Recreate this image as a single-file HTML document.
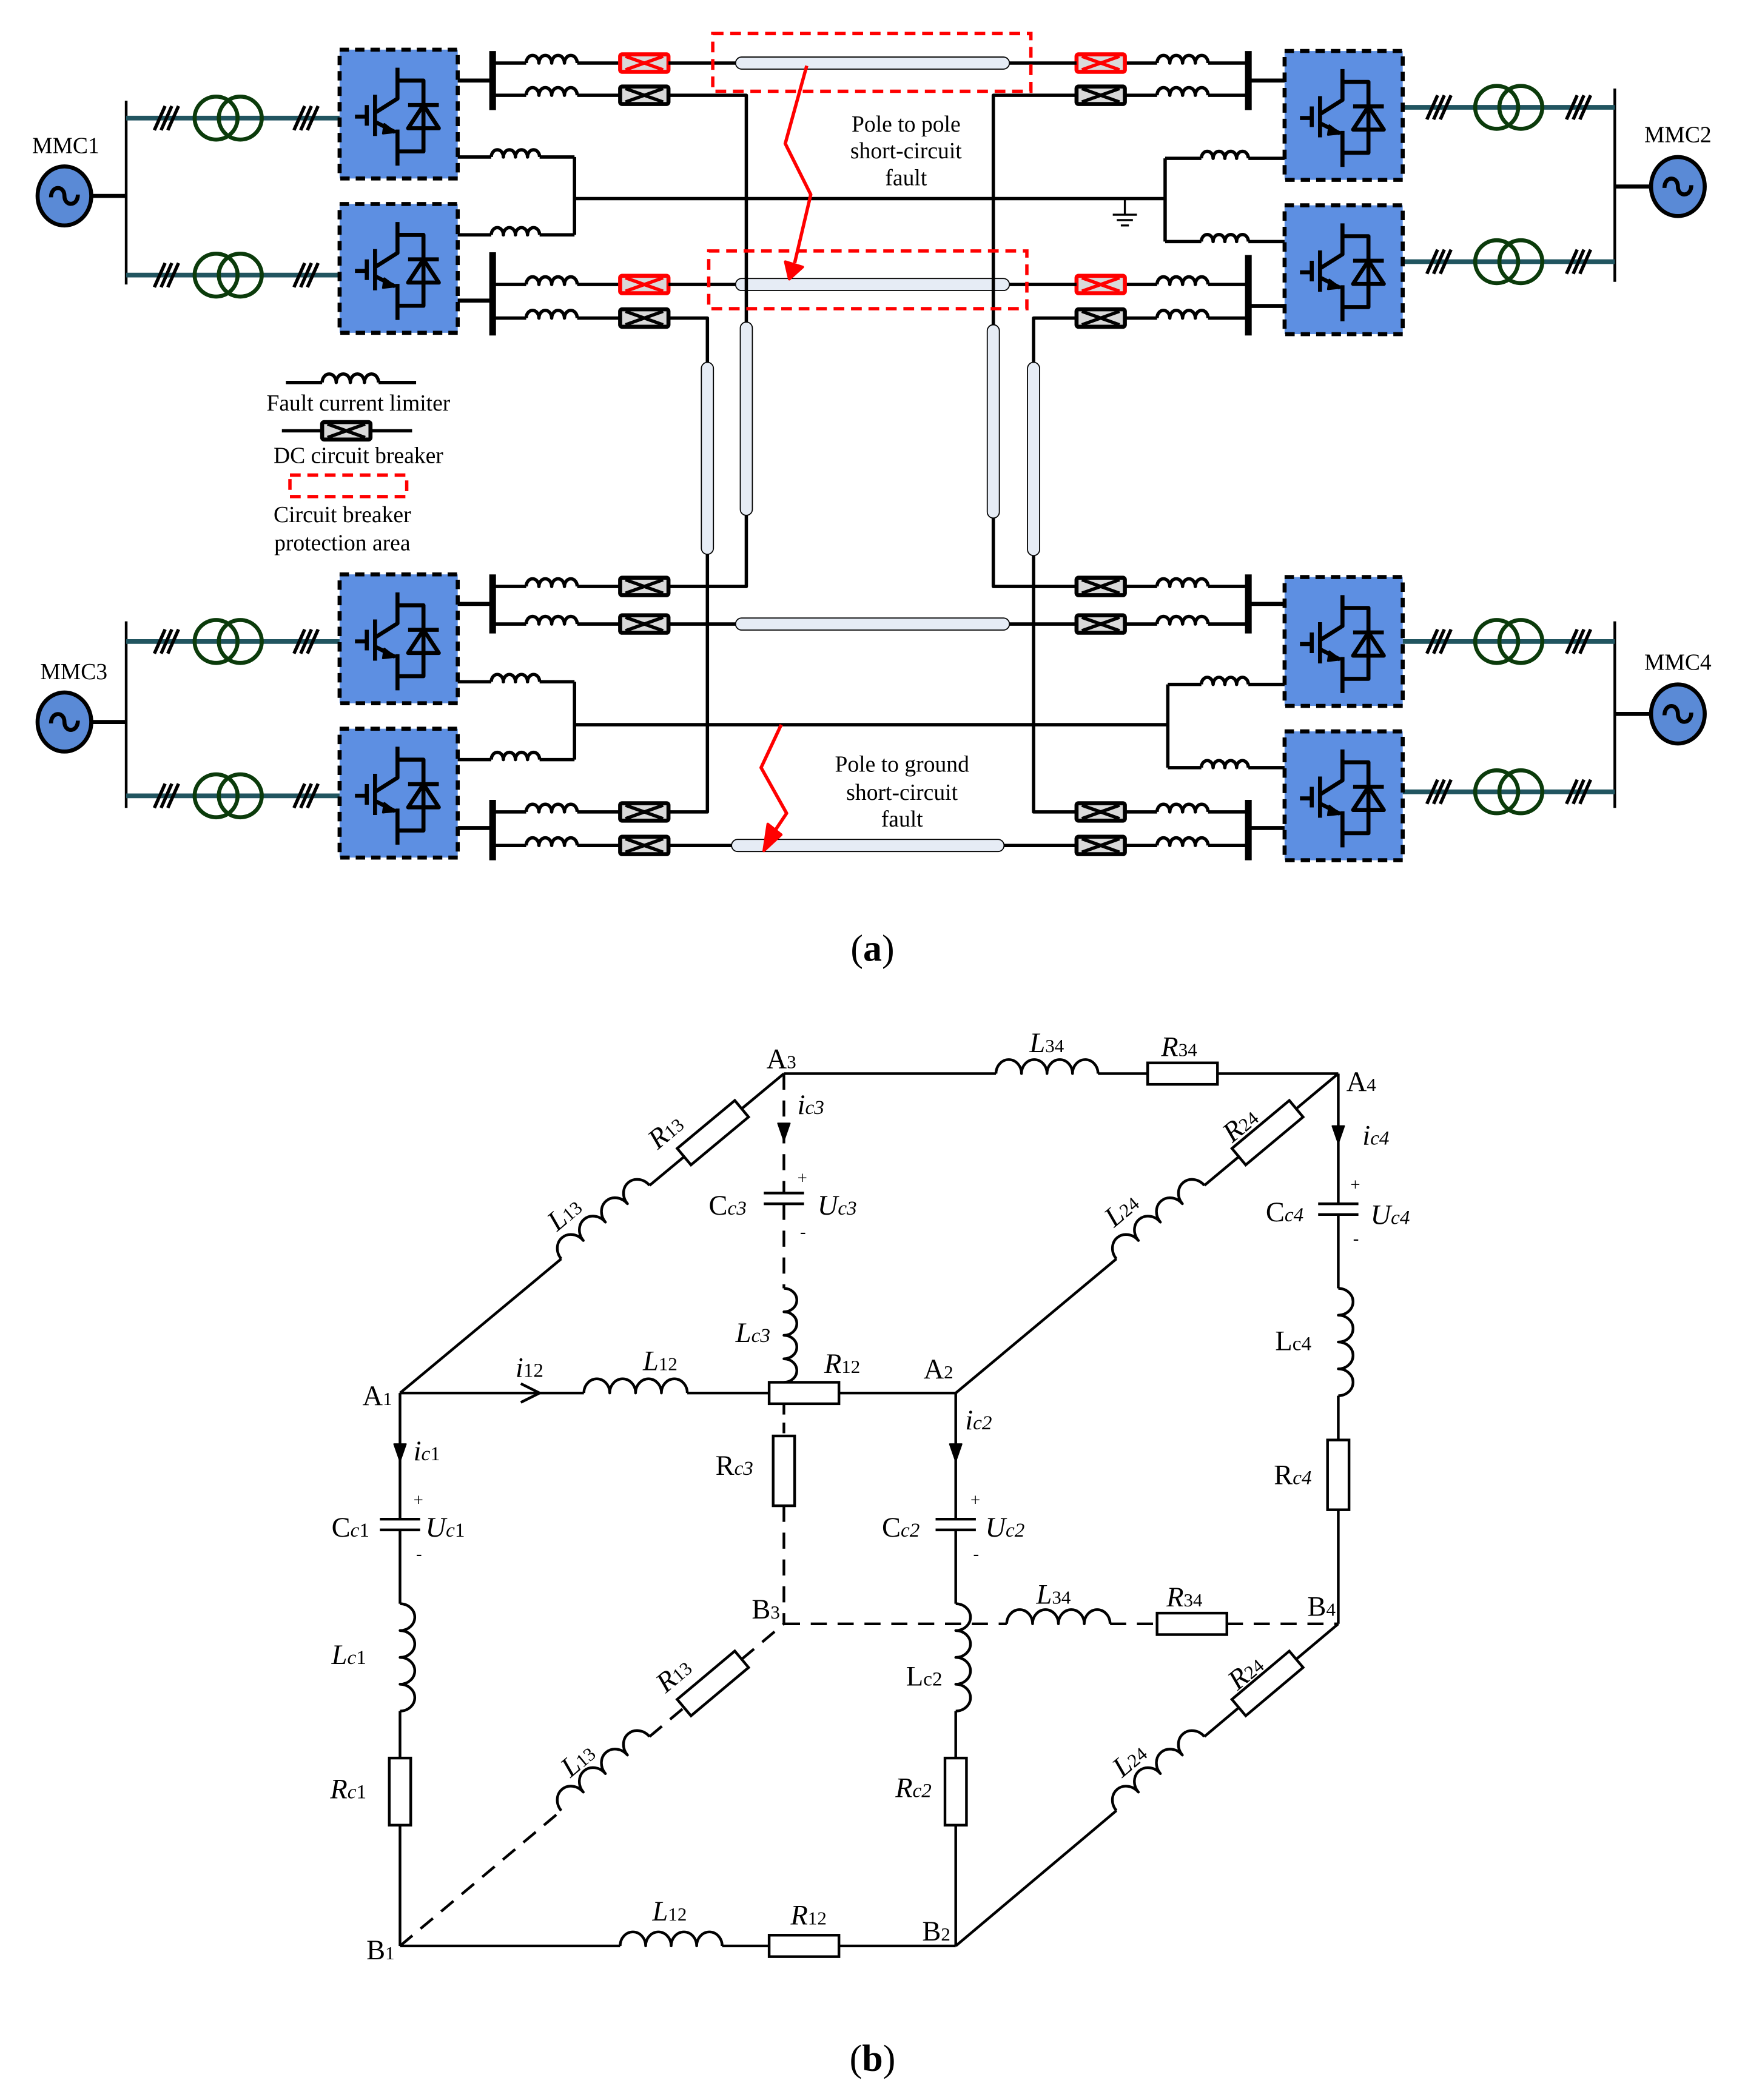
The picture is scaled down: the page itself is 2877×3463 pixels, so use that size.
<!DOCTYPE html>
<html><head><meta charset="utf-8"><style>
html,body{margin:0;padding:0;background:#fff;}
svg{display:block;}
text{font-family:"Liberation Serif",serif;fill:#000;}
.it{font-style:italic;}
</style></head><body>
<svg id="s" xmlns="http://www.w3.org/2000/svg" width="2877" height="3463" viewBox="0 0 1300 1564.8" preserveAspectRatio="none">
<rect x="0" y="0" width="1300" height="1565" fill="#fff"/>
<g id="g"></g>
<g font-size="17" text-anchor="middle">
<text x="49" y="114" font-size="17">MMC1</text>
<text x="1250" y="106" font-size="17">MMC2</text>
<text x="55" y="506" font-size="17">MMC3</text>
<text x="1250" y="499" font-size="17">MMC4</text>
<text x="675" y="98">Pole to pole</text>
<text x="675" y="118">short-circuit</text>
<text x="675" y="138">fault</text>
<text x="672" y="575">Pole to ground</text>
<text x="672" y="596">short-circuit</text>
<text x="672" y="616">fault</text>
<text x="267" y="306">Fault current limiter</text>
<text x="267" y="345">DC circuit breaker</text>
<text x="255" y="389">Circuit breaker</text>
<text x="255" y="410">protection area</text>
<text x="650" y="716" font-size="28">(<tspan font-weight="bold">a</tspan>)</text>
<text x="650" y="1543" font-size="28">(<tspan font-weight="bold">b</tspan>)</text>
</g>
<g font-size="21">
<text x="571" y="796">A<tspan font-size="14">3</tspan></text>
<text x="1003" y="813">A<tspan font-size="14">4</tspan></text>
<text x="270" y="1047">A<tspan font-size="14">1</tspan></text>
<text x="688" y="1027">A<tspan font-size="14">2</tspan></text>
<text x="273" y="1460">B<tspan font-size="14">1</tspan></text>
<text x="687" y="1446">B<tspan font-size="14">2</tspan></text>
<text x="560" y="1206">B<tspan font-size="14">3</tspan></text>
<text x="974" y="1204">B<tspan font-size="14">4</tspan></text>
<text x="767" y="784" class="it">L<tspan font-size="14" font-style="normal">34</tspan></text>
<text x="865" y="787" class="it">R<tspan font-size="14" font-style="normal">34</tspan></text>
<text x="0" y="0" class="it" transform="translate(490,857) rotate(-40)">R<tspan font-size="14" font-style="normal">13</tspan></text>
<text x="0" y="0" class="it" transform="translate(415,918) rotate(-40)">L<tspan font-size="14" font-style="normal">13</tspan></text>
<text x="0" y="0" class="it" transform="translate(918,852) rotate(-40)">R<tspan font-size="14" font-style="normal">24</tspan></text>
<text x="0" y="0" class="it" transform="translate(830,915) rotate(-40)">L<tspan font-size="14" font-style="normal">24</tspan></text>
<text x="594" y="830" class="it">i<tspan font-size="15">c3</tspan></text>
<text x="528" y="905">C<tspan font-size="15" class="it">c3</tspan></text>
<text x="594" y="882" font-size="13">+</text>
<text x="596" y="922" font-size="13">-</text>
<text x="609" y="905" class="it">U<tspan font-size="15">c3</tspan></text>
<text x="1015" y="853" class="it">i<tspan font-size="15">c4</tspan></text>
<text x="943" y="910">C<tspan font-size="15" class="it">c4</tspan></text>
<text x="1006" y="887" font-size="13">+</text>
<text x="1008" y="927" font-size="13">-</text>
<text x="1021" y="912" class="it">U<tspan font-size="15">c4</tspan></text>
<text x="548" y="1000" class="it">L<tspan font-size="15">c3</tspan></text>
<text x="950" y="1006">L<tspan font-size="15">c4</tspan></text>
<text x="614" y="1023" class="it">R<tspan font-size="14" font-style="normal">12</tspan></text>
<text x="479" y="1021" class="it">L<tspan font-size="14" font-style="normal">12</tspan></text>
<text x="384" y="1026" class="it">i<tspan font-size="15" font-style="normal">12</tspan></text>
<text x="308" y="1088" class="it">i<tspan font-size="15">c</tspan><tspan font-size="15" font-style="normal">1</tspan></text>
<text x="247" y="1145">C<tspan font-size="15" class="it">c</tspan><tspan font-size="15">1</tspan></text>
<text x="308" y="1122" font-size="13">+</text>
<text x="310" y="1162" font-size="13">-</text>
<text x="317" y="1145" class="it">U<tspan font-size="15">c</tspan><tspan font-size="15" font-style="normal">1</tspan></text>
<text x="719" y="1065" class="it">i<tspan font-size="15">c2</tspan></text>
<text x="657" y="1145">C<tspan font-size="15" class="it">c2</tspan></text>
<text x="723" y="1122" font-size="13">+</text>
<text x="725" y="1162" font-size="13">-</text>
<text x="734" y="1145" class="it">U<tspan font-size="15">c2</tspan></text>
<text x="533" y="1099">R<tspan font-size="15" class="it">c3</tspan></text>
<text x="949" y="1106">R<tspan font-size="15" class="it">c4</tspan></text>
<text x="247" y="1240" class="it">L<tspan font-size="15">c</tspan><tspan font-size="15" font-style="normal">1</tspan></text>
<text x="246" y="1340" class="it">R<tspan font-size="15">c</tspan><tspan font-size="15" font-style="normal">1</tspan></text>
<text x="675" y="1256">L<tspan font-size="15">c2</tspan></text>
<text x="667" y="1339" class="it">R<tspan font-size="15">c2</tspan></text>
<text x="772" y="1195" class="it">L<tspan font-size="14" font-style="normal">34</tspan></text>
<text x="869" y="1197" class="it">R<tspan font-size="14" font-style="normal">34</tspan></text>
<text x="0" y="0" class="it" transform="translate(496,1262) rotate(-40)">R<tspan font-size="14" font-style="normal">13</tspan></text>
<text x="0" y="0" class="it" transform="translate(425,1325) rotate(-40)">L<tspan font-size="14" font-style="normal">13</tspan></text>
<text x="0" y="0" class="it" transform="translate(922,1260) rotate(-40)">R<tspan font-size="14" font-style="normal">24</tspan></text>
<text x="0" y="0" class="it" transform="translate(836,1325) rotate(-40)">L<tspan font-size="14" font-style="normal">24</tspan></text>
<text x="486" y="1431" class="it">L<tspan font-size="14" font-style="normal">12</tspan></text>
<text x="589" y="1434" class="it">R<tspan font-size="14" font-style="normal">12</tspan></text>
</g>
</svg>
<script>
const ns="http://www.w3.org/2000/svg",G=document.getElementById('g');
function el(t,a){const e=document.createElementNS(ns,t);for(const k in a)e.setAttribute(k,a[k]);G.appendChild(e);return e;}
function L(x1,y1,x2,y2,w,c,d){const a={x1,y1,x2,y2,stroke:c||'#000','stroke-width':w||2,'stroke-linecap':'butt'};if(d)a['stroke-dasharray']=d;return el('line',a);}
function P(d,w,c,f,extra){const a={d,stroke:c||'#000','stroke-width':w||2,fill:f||'none','stroke-linejoin':'round'};Object.assign(a,extra||{});return el('path',a);}
function coil(x1,y1,x2,y2,n,w,hk){const dx=x2-x1,dy=y2-y1,len=Math.hypot(dx,dy),ang=Math.atan2(dy,dx)*180/Math.PI,r=len/n/2,h=r*(hk||1.1);let d='M0 0';for(let i=0;i<n;i++)d+=` a${r} ${h} 0 0 1 ${2*r} 0`;P(d,w,'#000','none',{transform:`translate(${x1},${y1}) rotate(${ang})`});}
function res(cx,cy,l,t,ang,w){el('rect',{x:-l/2,y:-t/2,width:l,height:t,fill:'#fff',stroke:'#000','stroke-width':w||2,transform:`translate(${cx},${cy}) rotate(${ang})`});}
function brk(x,y,red){const c=red?'#f00':'#000';el('rect',{x:x,y:y-6.5,width:36,height:13,fill:'#d9d9d9',stroke:c,'stroke-width':3,rx:1.5});L(x+4,y-5,x+32,y+5,2.5,c);L(x+4,y+5,x+32,y-5,2.5,c);}
function cable(x1,y1,x2,y2){if(y1==y2){el('rect',{x:x1,y:y1-4.5,width:x2-x1,height:9,rx:4.5,fill:'#e6ecf5',stroke:'#000','stroke-width':0.8});}else{el('rect',{x:x1-4.5,y:y1,width:9,height:y2-y1,rx:4.5,fill:'#e6ecf5',stroke:'#000','stroke-width':0.8});}}
function block(x,y){const w=88,h=96;el('rect',{x,y,width:w,height:h,fill:'#5d8fe2',stroke:'#000','stroke-width':3,'stroke-dasharray':'7 4.5'});
 const X=f=>x+f*w,Y=f=>y+f*h,sw=3;
 P(`M${X(.49)} ${Y(.14)} V${Y(.38)} L${X(.30)} ${Y(.49)}`,sw);
 L(X(.30),Y(.35),X(.30),Y(.67),sw);L(X(.23),Y(.43),X(.23),Y(.59),sw);L(X(.13),Y(.52),X(.23),Y(.52),sw);
 P(`M${X(.30)} ${Y(.56)} L${X(.47)} ${Y(.64)} M${X(.49)} ${Y(.62)} V${Y(.90)}`,sw);
 P(`M${X(.47)} ${Y(.64)} l-8 -6 l-1 7 z`,1.5,'#000','#000');
 P(`M${X(.49)} ${Y(.24)} H${X(.71)} V${Y(.79)} H${X(.49)}`,sw);
 L(X(.58),Y(.43),X(.84),Y(.43),sw);P(`M${X(.58)} ${Y(.61)} H${X(.84)} L${X(.71)} ${Y(.43)} Z`,sw);}
function gen(cx,cy){el('ellipse',{cx,cy,rx:20,ry:22,fill:'#5a8ad6',stroke:'#000','stroke-width':3});P(`M${cx-10} ${cy+1} c0 -9 10 -9 10 -1 c0 8 10 8 10 -1`,3);}
function xf(cx,y){el('circle',{cx:cx-9,cy:y,r:16,fill:'none',stroke:'#0b3b0b','stroke-width':3});el('circle',{cx:cx+9,cy:y,r:16,fill:'none',stroke:'#0b3b0b','stroke-width':3});}
function hash(cx,y){for(let i=-1;i<=1;i++)L(cx+i*5-4,y+9,cx+i*5+4,y-9,2.5);}
function acSide(gx,gy,busx,b1,b2,ys,left){const tl='#215560';gen(gx,gy);L(left?gx+20:gx-20,gy,busx,gy,3);L(busx,b1,busx,b2,2);
 ys.forEach(y=>{if(left){L(busx,y,253,y,3.5,tl);hash(124,y);xf(170,y);hash(228,y);}else{L(1045,y,busx,y,3.5,tl);hash(1072,y);xf(1124,y);hash(1176,y);}});}
function leftDC(by1,by2,busA,busB){
 block(253,by1);block(253,by2);
 L(367,busA[0],367,busA[1],5);L(341,busA[2],367,busA[2],3);
 L(367,busB[0],367,busB[1],5);L(341,busB[2],367,busB[2],3);
 const o1=by1+80,o2=by2+23;L(341,o1,366,o1,2.5);coil(366,o1,402,o1,4,2.5,1.2);L(402,o1,428,o1,2.5);L(428,o1,428,o2,2.5);
 L(341,o2,366,o2,2.5);coil(366,o2,402,o2,4,2.5,1.2);L(402,o2,428,o2,2.5);}
function rightDC(by1,by2,busA,busB,neuX){block(957,by1);block(957,by2);
 L(930,busA[0],930,busA[1],5);L(930,busA[2],957,busA[2],3);
 L(930,busB[0],930,busB[1],5);L(930,busB[2],957,busB[2],3);
 const o1=by1+80,o2=by2+27;L(neuX,o1,895,o1,2.5);coil(895,o1,930,o1,4,2.5,1.2);L(930,o1,957,o1,2.5);L(neuX,o1,neuX,o2,2.5);
 L(neuX,o2,895,o2,2.5);coil(895,o2,930,o2,4,2.5,1.2);L(930,o2,957,o2,2.5);}
function lineL(y,red){L(367,y,392,y,2.5);coil(392,y,430,y,4,2.5,1.2);L(430,y,462,y,2.5);brk(462,y,red);}
function lineR(y,red){L(838,y,862,y,2.5);coil(862,y,900,y,4,2.5,1.2);L(900,y,930,y,2.5);brk(802,y,red);}

acSide(48,146,94,75,212,[88,205],true);
acSide(1250,139,1203,66,210,[80,195],false);
acSide(48,538,94,463,602,[478,593],true);
acSide(1250,532,1203,463,602,[478,590],false);
leftDC(37,152,[38,82,60],[188,250,224]);
rightDC(38,153,[38,82,60],[190,250,228],868);
leftDC(428,543,[428,472,450],[596,641,617]);
rightDC(430,545,[428,472,450],[596,641,617],870);
L(428,148,868,148,2.5);L(428,540,870,540,2.5);
L(838,148,838,160,1.5);L(829,160,847,160,1.5);L(832,164,844,164,1.5);L(835,168,841,168,1.5);
[47,71,212,237,437,465,605,630].forEach(y=>{lineL(y,y==47||y==212);lineR(y,y==47||y==212);});
L(498,47,548,47,2.5);cable(548,47,752,47);L(752,47,802,47,2.5);
L(498,212,548,212,2.5);cable(548,212,752,212);L(752,212,802,212,2.5);
L(498,465,548,465,2.5);cable(548,465,752,465);L(752,465,802,465,2.5);
L(498,630,545,630,2.5);cable(545,630,748,630);L(748,630,802,630,2.5);
P('M498 71 H556 V437 H498',2.5);cable(556,240,556,384);
P('M498 237 H527 V605 H498',2.5);cable(527,270,527,413);
P('M802 71 H740 V437 H802',2.5);cable(740,242,740,386);
P('M802 237 H770 V605 H802',2.5);cable(770,270,770,414);
el('rect',{x:531,y:25,width:237,height:43,fill:'none',stroke:'#f00','stroke-width':2.5,'stroke-dasharray':'8 5'});
el('rect',{x:528,y:187,width:237,height:43,fill:'none',stroke:'#f00','stroke-width':2.5,'stroke-dasharray':'8 5'});
P('M601 49 L585 107 L604 145 L592 196',2.5,'#f00');P('M588 208 L585 195 L598 199 Z',2,'#f00','#f00');
P('M582 540 L567 572 L586 606 L574 624',2.5,'#f00');P('M569 634 L572 614 L582 622 Z',2,'#f00','#f00');
L(213,285,240,285,2.5);coil(240,285,282,285,4,2.5,1.2);L(282,285,310,285,2.5);
L(210,321,240,321,2.5);brk(240,321,false);L(276,321,307,321,2.5);
el('rect',{x:216,y:354,width:87,height:16,fill:'none',stroke:'#f00','stroke-width':2.5,'stroke-dasharray':'8 5'});

const D='12 8';
L(584,800,742,800);coil(742,800,818,800,4,2,1.1);L(818,800,855,800);res(881,800,52,16,0);L(907,800,997,800);
function diag(x1,y1,x2,y2,segs,dash){
 const dx=x2-x1,dy=y2-y1,len=Math.hypot(dx,dy),ang=Math.atan2(dy,dx)*180/Math.PI;let t=0;
 segs.forEach(s=>{const [a,b,k]=s;if(a>t)L(x1+dx*t,y1+dy*t,x1+dx*a,y1+dy*a,2,'#000',dash);
  if(k=='L')coil(x1+dx*a,y1+dy*a,x1+dx*b,y1+dy*b,4,2,1.1);
  else {const m=(a+b)/2;res(x1+dx*m,y1+dy*m,(b-a)*len,16,ang);}t=b;});
 if(t<1)L(x1+dx*t,y1+dy*t,x2,y2,2,'#000',dash);}
diag(298,1038,584,800,[[0.42,0.65,'L'],[0.74,0.89,'R']]);
diag(712,1038,997,800,[[0.42,0.65,'L'],[0.74,0.89,'R']]);
diag(298,1450,584,1210,[[0.42,0.65,'L'],[0.74,0.89,'R']],D);
diag(712,1450,997,1210,[[0.42,0.65,'L'],[0.74,0.89,'R']]);
L(298,1038,435,1038);P('M388 1031 L402 1038 L388 1045',2);coil(435,1038,512,1038,4,2,1.1);L(512,1038,573,1038);res(599,1038,52,16,0);L(625,1038,712,1038);
L(298,1450,462,1450);coil(462,1450,538,1450,4,2,1.1);L(538,1450,573,1450);res(599,1450,52,16,0);L(625,1450,712,1450);
L(584,1210,750,1210,2,'#000',D);coil(750,1210,827,1210,4,2,1.1);L(827,1210,862,1210,2,'#000',D);res(888,1210,52,16,0);L(914,1210,997,1210,2,'#000',D);
function arrowDown(x,y){P(`M${x-4.5} ${y-13} L${x+4.5} ${y-13} L${x} ${y} Z`,1,'#000','#000');}
function capV(x,y){L(x-15,y-4,x+15,y-4,2);L(x-15,y+4,x+15,y+4,2);}
L(298,1038,298,1132);arrowDown(298,1089);capV(298,1136);L(298,1140,298,1195);coil(298,1195,298,1275,4,2,1.1);L(298,1275,298,1310);res(298,1335,50,16,90);L(298,1360,298,1450);
L(712,1038,712,1132);arrowDown(712,1089);capV(712,1136);L(712,1140,712,1195);coil(712,1195,712,1275,4,2,1.1);L(712,1275,712,1310);res(712,1335,50,16,90);L(712,1360,712,1450);
L(997,800,997,897);arrowDown(997,852);capV(997,901);L(997,905,997,960);coil(997,960,997,1040,4,2,1.1);L(997,1040,997,1073);res(997,1099,52,16,90);L(997,1125,997,1210);
L(584,800,584,889,2,'#000',D);arrowDown(584,850);capV(584,893);L(584,897,584,960,2,'#000',D);coil(584,960,584,1030,4,2,1.1);
L(584,1046,584,1070,2,'#000','8 6');res(584,1096,52,16,90);L(584,1122,584,1210,2,'#000',D);
</script>
</body></html>
